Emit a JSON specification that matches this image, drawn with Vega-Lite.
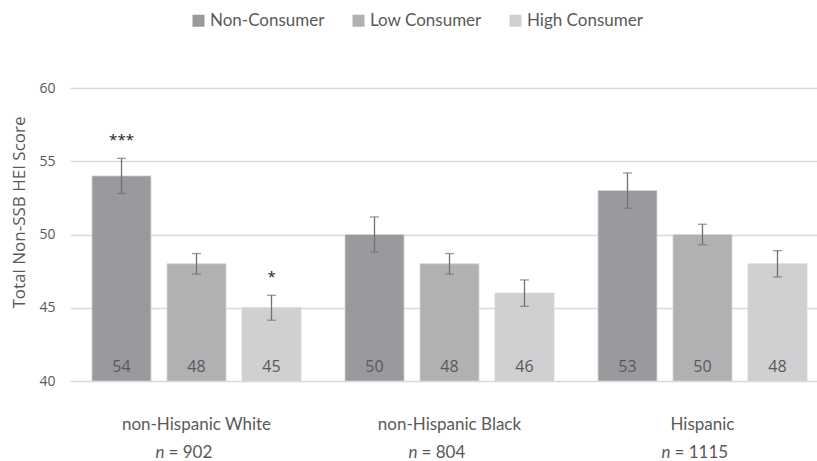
{
  "$schema": "https://vega.github.io/schema/vega-lite/v6.json",
  "autosize": "none",
  "width": 759,
  "height": 293,
  "padding": {"left": 70, "top": 88, "right": 0, "bottom": 80},
  "background": "white",
  "config": {
    "view": {"stroke": null},
    "font": "Open Sans"
  },
  "datasets": {
    "scores": [
      {"group": "non-Hispanic White", "consumer": "Non-Consumer", "score": 54, "lo": 52.8, "hi": 55.2, "sig": "***"},
      {"group": "non-Hispanic White", "consumer": "Low Consumer", "score": 48, "lo": 47.3, "hi": 48.7, "sig": ""},
      {"group": "non-Hispanic White", "consumer": "High Consumer", "score": 45, "lo": 44.15, "hi": 45.85, "sig": "*"},
      {"group": "non-Hispanic Black", "consumer": "Non-Consumer", "score": 50, "lo": 48.8, "hi": 51.2, "sig": ""},
      {"group": "non-Hispanic Black", "consumer": "Low Consumer", "score": 48, "lo": 47.3, "hi": 48.7, "sig": ""},
      {"group": "non-Hispanic Black", "consumer": "High Consumer", "score": 46, "lo": 45.1, "hi": 46.9, "sig": ""},
      {"group": "Hispanic", "consumer": "Non-Consumer", "score": 53, "lo": 51.8, "hi": 54.2, "sig": ""},
      {"group": "Hispanic", "consumer": "Low Consumer", "score": 50, "lo": 49.3, "hi": 50.7, "sig": ""},
      {"group": "Hispanic", "consumer": "High Consumer", "score": 48, "lo": 47.1, "hi": 48.9, "sig": ""}
    ],
    "samples": [
      {"group": "non-Hispanic White", "n": "= 902"},
      {"group": "non-Hispanic Black", "n": "= 804"},
      {"group": "Hispanic", "n": "= 1115"}
    ]
  },
  "encoding": {
    "x": {
      "field": "group",
      "type": "nominal",
      "sort": ["non-Hispanic White", "non-Hispanic Black", "Hispanic"],
      "scale": {"paddingInner": 0.1739, "paddingOuter": 0.087},
      "axis": {
        "title": null,
        "domain": false,
        "ticks": false,
        "labelAngle": 0,
        "labelPadding": 35,
        "labelFont": "Lato",
        "labelFontSize": 17,
        "labelColor": "#595959"
      }
    }
  },
  "layer": [
    {
      "data": {"name": "scores"},
      "mark": {"type": "bar", "stroke": "#d6d6d8", "strokeWidth": 0.8},
      "encoding": {
        "xOffset": {
          "field": "consumer",
          "type": "nominal",
          "sort": ["Non-Consumer", "Low Consumer", "High Consumer"],
          "scale": {"paddingInner": 0.2133, "paddingOuter": 0}
        },
        "y": {
          "field": "score",
          "type": "quantitative",
          "scale": {"domain": [40, 60], "nice": false, "zero": false},
          "axis": {
            "title": "Total Non-SSB HEI Score",
            "titleFont": "Open Sans",
            "titleFontSize": 17,
            "titleFontWeight": "normal",
            "titleColor": "#595959",
            "titlePadding": 10,
            "titleY": 124,
            "values": [40, 45, 50, 55, 60],
            "domain": false,
            "ticks": false,
            "labelPadding": 15,
            "labelFont": "Open Sans",
            "labelFontSize": 14,
            "labelColor": "#595959",
            "gridColor": "#d9d9d9",
            "gridWidth": 1.3
          }
        },
        "y2": {"datum": 40},
        "color": {
          "field": "consumer",
          "type": "nominal",
          "sort": ["Non-Consumer", "Low Consumer", "High Consumer"],
          "scale": {
            "domain": ["Non-Consumer", "Low Consumer", "High Consumer"],
            "range": ["#9a9a9e", "#b1b1b4", "#d0d0d2"]
          },
          "legend": {
            "title": null,
            "orient": "none",
            "direction": "horizontal",
            "legendX": 120,
            "legendY": -76,
            "symbolType": "square",
            "symbolSize": 144,
            "symbolStrokeWidth": 0,
            "labelFont": "Lato",
            "labelFontSize": 17,
            "labelColor": "#595959",
            "labelOffset": 3,
            "columnPadding": 25
          }
        }
      }
    },
    {
      "data": {"name": "scores"},
      "mark": {"type": "rule", "color": "#707070", "strokeWidth": 1.3},
      "encoding": {
        "xOffset": {"field": "consumer", "type": "nominal", "sort": ["Non-Consumer", "Low Consumer", "High Consumer"]},
        "y": {"field": "lo", "type": "quantitative"},
        "y2": {"field": "hi"}
      }
    },
    {
      "data": {"name": "scores"},
      "mark": {"type": "tick", "color": "#707070", "thickness": 1.3, "size": 9, "orient": "horizontal"},
      "encoding": {
        "xOffset": {"field": "consumer", "type": "nominal", "sort": ["Non-Consumer", "Low Consumer", "High Consumer"]},
        "y": {"field": "lo", "type": "quantitative"}
      }
    },
    {
      "data": {"name": "scores"},
      "mark": {"type": "tick", "color": "#707070", "thickness": 1.3, "size": 9, "orient": "horizontal"},
      "encoding": {
        "xOffset": {"field": "consumer", "type": "nominal", "sort": ["Non-Consumer", "Low Consumer", "High Consumer"]},
        "y": {"field": "hi", "type": "quantitative"}
      }
    },
    {
      "data": {"name": "scores"},
      "mark": {"type": "text", "color": "#222222", "fontSize": 15, "dy": -10, "baseline": "bottom", "font": "Open Sans"},
      "encoding": {
        "xOffset": {"field": "consumer", "type": "nominal", "sort": ["Non-Consumer", "Low Consumer", "High Consumer"]},
        "y": {"field": "hi", "type": "quantitative"},
        "text": {"field": "sig"}
      }
    },
    {
      "data": {"name": "scores"},
      "mark": {"type": "text", "color": "#595959", "fontSize": 16, "dy": -14, "baseline": "middle", "font": "Open Sans"},
      "encoding": {
        "xOffset": {"field": "consumer", "type": "nominal", "sort": ["Non-Consumer", "Low Consumer", "High Consumer"]},
        "y": {"datum": 40},
        "text": {"field": "score", "type": "quantitative"}
      }
    },
    {
      "data": {"name": "samples"},
      "mark": {"type": "text", "color": "#595959", "fontSize": 17, "font": "Lato", "fontStyle": "italic", "align": "right", "dx": -32, "dy": 72, "baseline": "middle"},
      "encoding": {
        "y": {"datum": 40},
        "text": {"value": "n"}
      }
    },
    {
      "data": {"name": "samples"},
      "mark": {"type": "text", "color": "#595959", "fontSize": 17, "font": "Lato", "align": "left", "dx": -28, "dy": 72, "baseline": "middle"},
      "encoding": {
        "y": {"datum": 40},
        "text": {"field": "n"}
      }
    }
  ]
}
